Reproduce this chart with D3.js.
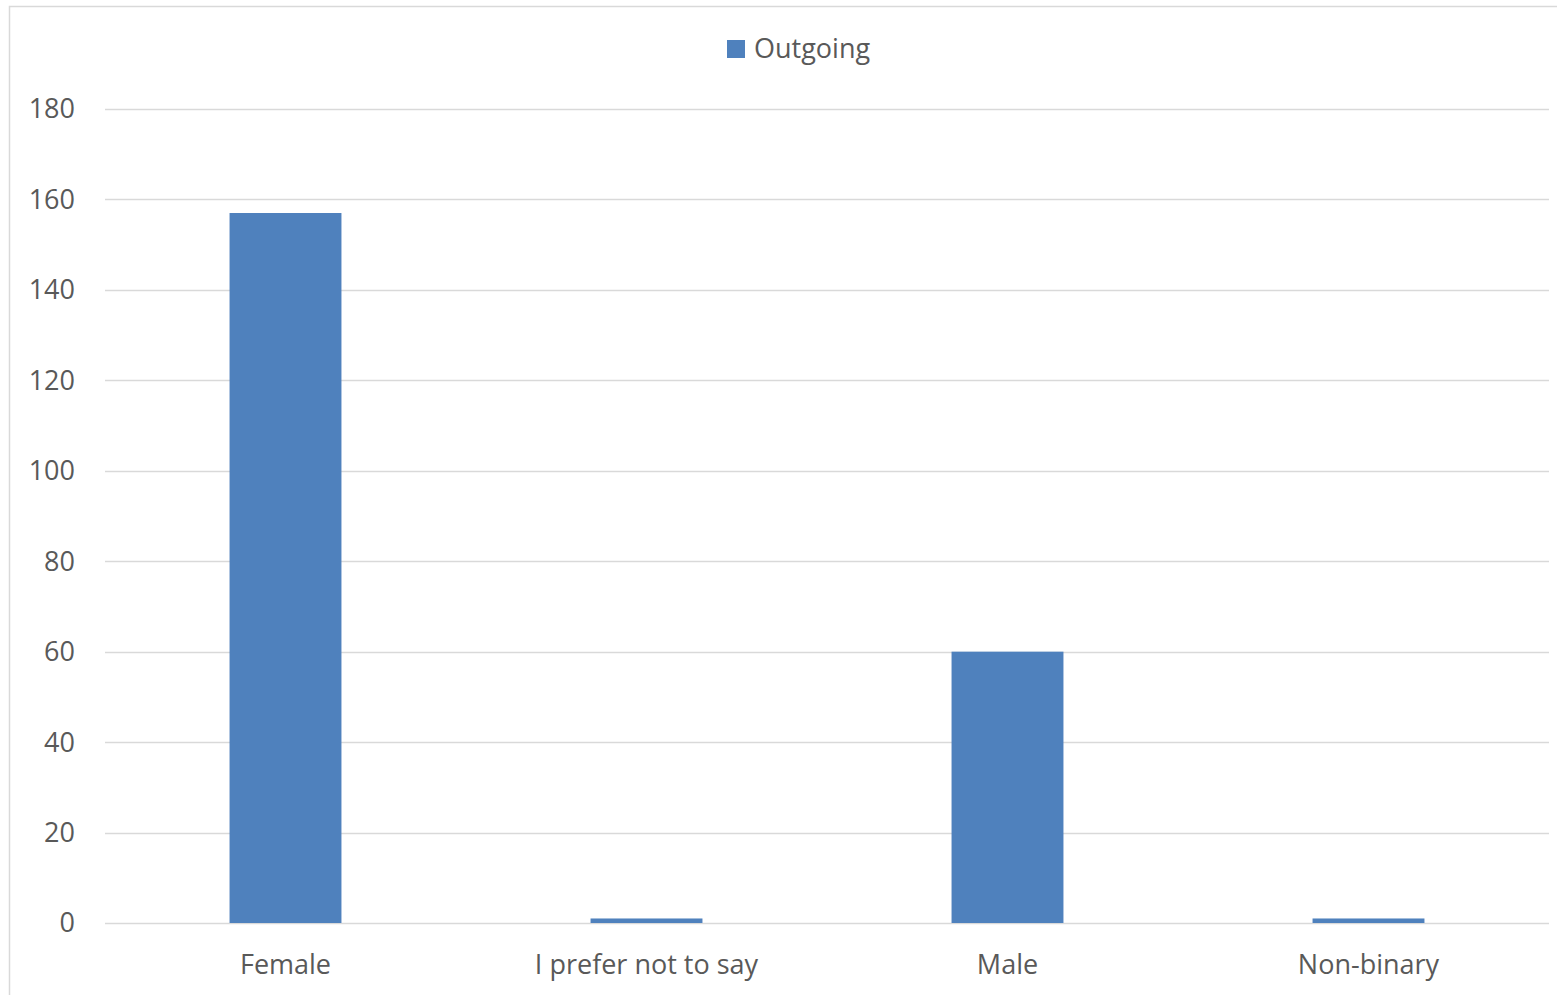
<!DOCTYPE html>
<html><head><meta charset="utf-8">
<script src="https://cdn.jsdelivr.net/npm/d3@7"></script>
<style>body{margin:0;background:#fff;} svg{display:block;}</style>
</head><body>
<script>
const categories = ["Female", "I prefer not to say", "Male", "Non-binary"];
const outgoing = [157, 1, 60, 1];
const yTicks = [0, 20, 40, 60, 80, 100, 120, 140, 160, 180];
const seriesName = "Outgoing";

const W = 1557, H = 995;
const svg = d3.select("body").append("svg").attr("width", W).attr("height", H);
const font = "'Open Sans', sans-serif";
const textColor = "#595959";
const fs = 27;

svg.append("rect").attr("x", 9.5).attr("y", 6.5).attr("width", W + 10).attr("height", H + 10)
  .attr("fill", "#fff").attr("stroke", "#d9d9d9").attr("stroke-width", 1.5);

const m = {left: 105, right: 1549, top: 109, bottom: 923};
const x = d3.scaleBand().domain(categories).range([m.left, m.right]).paddingInner(0.69).paddingOuter(0.345);
const y = d3.scaleLinear().domain([0, 180]).range([m.bottom, m.top]);

svg.append("g").selectAll("line").data(yTicks).join("line")
  .attr("x1", m.left).attr("x2", m.right)
  .attr("y1", d => Math.round(y(d)) + 0.5).attr("y2", d => Math.round(y(d)) + 0.5)
  .attr("stroke", "#d9d9d9").attr("stroke-width", 1.5);

svg.append("g").selectAll("text").data(yTicks).join("text")
  .attr("x", 75).attr("y", d => y(d)).attr("dy", "0.35em")
  .attr("text-anchor", "end").attr("font-family", font).attr("font-size", fs)
  .attr("fill", textColor).text(d => d);

svg.append("g").selectAll("rect").data(outgoing).join("rect")
  .attr("x", (d, i) => x(categories[i])).attr("width", x.bandwidth())
  .attr("y", d => y(d)).attr("height", d => y(0) - y(d))
  .attr("fill", "#4F81BD");

svg.append("g").selectAll("text").data(categories).join("text")
  .attr("x", d => x(d) + x.bandwidth() / 2).attr("y", 974)
  .attr("text-anchor", "middle").attr("font-family", font).attr("font-size", fs)
  .attr("fill", textColor).text(d => d);

const lg = svg.append("g");
lg.append("rect").attr("x", 727).attr("y", 40).attr("width", 18).attr("height", 18).attr("fill", "#4F81BD");
lg.append("text").attr("x", 754).attr("y", 49).attr("dy", "0.35em")
  .attr("font-family", font).attr("font-size", fs).attr("fill", textColor).text(seriesName);
</script>
</body></html>
